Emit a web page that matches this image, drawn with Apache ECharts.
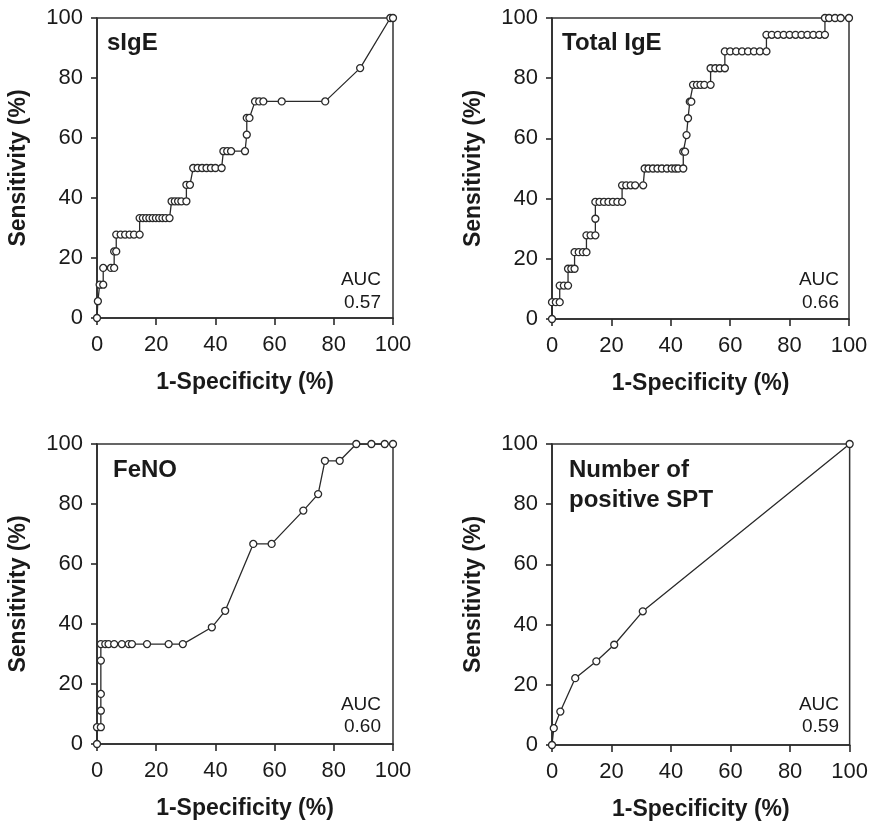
<!DOCTYPE html>
<html>
<head>
<meta charset="utf-8">
<script src="https://cdn.jsdelivr.net/npm/echarts@6/dist/echarts.min.js"></script>
<style>
html,body{margin:0;padding:0;background:#fff;}
#c{width:871px;height:825px;}
</style>
</head>
<body>
<div id="c"></div>
<script>
// ---- Data ----
const xTicks = [0, 20, 40, 60, 80, 100];
const yTicks = [0, 20, 40, 60, 80, 100];
const panelTitles = ['sIgE', 'Total IgE', 'FeNO', 'Number of\npositive SPT'];
const aucValues = ['0.57', '0.66', '0.60', '0.59'];
const xAxisTitle = '1-Specificity (%)';
const yAxisTitle = 'Sensitivity (%)';

const sigeX = [0,0.3,0.9,2.1,2.1,4.7,5.8,5.8,6.5,6.5,8,9.5,11,12.5,14.4,14.4,15.5,16.6,17.7,18.8,19.9,21,22.1,23.2,24.5,25.2,26.3,27.4,28.5,30.2,30.2,31.4,32.5,34,35.5,37,38.5,40,42.1,42.7,44,45.3,50,50.6,50.6,51.5,53.4,54.8,56.2,62.4,77.1,88.9,99.1,100];
const sigeY = [0,5.6,11.1,11.1,16.7,16.7,16.7,22.2,22.2,27.8,27.8,27.8,27.8,27.8,27.8,33.3,33.3,33.3,33.3,33.3,33.3,33.3,33.3,33.3,33.3,38.9,38.9,38.9,38.9,38.9,44.4,44.4,50,50,50,50,50,50,50,55.6,55.6,55.6,55.6,61.1,66.7,66.7,72.2,72.2,72.2,72.2,72.2,83.3,100,100];

const totX = [0,0,1.3,2.6,2.6,4,5.4,5.4,6.5,7.6,7.6,9,10.4,11.6,11.6,13,14.6,14.6,14.6,16,17.5,19,20.5,22,23.6,23.6,25,26.5,28,30.7,31.2,32.5,34,35.5,37,38.7,40.3,41.5,42.5,44.2,44.2,44.8,45.3,45.8,46.4,46.9,47.5,48.8,50,51.3,53.4,53.4,55,56.5,58.2,58.2,60,62,64,66,68,70,72.2,72.2,74,76,78,80,82,84,86,88,90,91.9,91.9,93.3,95.3,97.2,100];
const totY = [0,5.6,5.6,5.6,11.1,11.1,11.1,16.7,16.7,16.7,22.2,22.2,22.2,22.2,27.8,27.8,27.8,33.3,38.9,38.9,38.9,38.9,38.9,38.9,38.9,44.4,44.4,44.4,44.4,44.4,50,50,50,50,50,50,50,50,50,50,55.6,55.6,61.1,66.7,72.2,72.2,77.8,77.8,77.8,77.8,77.8,83.3,83.3,83.3,83.3,88.9,88.9,88.9,88.9,88.9,88.9,88.9,88.9,94.4,94.4,94.4,94.4,94.4,94.4,94.4,94.4,94.4,94.4,94.4,100,100,100,100,100];

const fenoX = [0,0,1.3,1.3,1.3,1.3,1.3,2.8,3.9,5.8,8.4,10.7,11.8,16.9,24.2,29,38.8,43.3,52.8,59,69.7,74.7,77,82,87.6,92.7,97.2,100];
const fenoY = [0,5.6,5.6,11.1,16.7,27.8,33.3,33.3,33.3,33.3,33.3,33.3,33.3,33.3,33.3,33.3,38.9,44.4,66.7,66.7,77.8,83.3,94.4,94.4,100,100,100,100];

const sptX = [0,0.6,2.8,7.8,14.9,20.9,30.5,100];
const sptY = [0,5.6,11.1,22.2,27.8,33.3,44.4,100];

// ---- Build ----
const seriesX = [sigeX, totX, fenoX, sptX];
const seriesY = [sigeY, totY, fenoY, sptY];
const grids = [
  {left: 97, top: 18, width: 296, height: 300},
  {left: 552, top: 18, width: 297, height: 301},
  {left: 97, top: 444, width: 296, height: 300},
  {left: 552, top: 444, width: 298, height: 301}
];
const FONT = '"Liberation Sans", Arial, Helvetica, sans-serif';
const INK = '#1a1a1a';

const option = {
  animation: false,
  backgroundColor: '#fff',
  grid: grids.map(g => Object.assign({show: true, borderColor: '#333', borderWidth: 1.5, backgroundColor: 'transparent'}, g)),
  xAxis: grids.map((g, i) => ({
    type: 'value', gridIndex: i, min: xTicks[0], max: xTicks[xTicks.length-1], interval: xTicks[1]-xTicks[0],
    name: xAxisTitle, nameLocation: 'middle', nameGap: 53,
    nameTextStyle: {fontFamily: FONT, fontSize: 23, fontWeight: 'bold', color: INK},
    axisLine: {show: true, onZero: false, lineStyle: {color: '#2a2a2a', width: 1.6}},
    axisTick: {show: true, inside: false, length: 7, lineStyle: {color: '#2a2a2a', width: 1.6}},
    axisLabel: {fontFamily: FONT, fontSize: 22, color: INK, margin: 16},
    splitLine: {show: false}
  })),
  yAxis: grids.map((g, i) => ({
    type: 'value', gridIndex: i, min: yTicks[0], max: yTicks[yTicks.length-1], interval: yTicks[1]-yTicks[0],
    name: yAxisTitle, nameLocation: 'middle', nameGap: 67, nameRotate: 90,
    nameTextStyle: {fontFamily: FONT, fontSize: 23, fontWeight: 'bold', color: INK},
    axisLine: {show: true, onZero: false, lineStyle: {color: '#2a2a2a', width: 1.6}},
    axisTick: {show: true, inside: false, length: 6, lineStyle: {color: '#2a2a2a', width: 1.6}},
    axisLabel: {fontFamily: FONT, fontSize: 22, color: INK, margin: 14},
    splitLine: {show: false}
  })),
  series: seriesX.map((xs, i) => ({
    type: 'line', xAxisIndex: i, yAxisIndex: i,
    data: xs.map((x, j) => [x, seriesY[i][j]]),
    symbol: 'circle', symbolSize: 7, showAllSymbol: true,
    lineStyle: {color: '#2a2a2a', width: 1.3},
    itemStyle: {color: '#fff', borderColor: '#2a2a2a', borderWidth: 1.3},
    z: 3
  })),
  graphic: []
};

// panel titles
const titlePos = [[107, 43], [562, 43], [113, 470], [569, 485]];
panelTitles.forEach((t, i) => {
  option.graphic.push({
    type: 'text', x: titlePos[i][0], y: titlePos[i][1], z: 10,
    style: {text: t, fontFamily: FONT, fontSize: 24, fontWeight: 'bold', fill: INK,
      verticalAlign: 'middle', lineHeight: 30}
  });
});
// AUC annotations
const aucPos = [[381, 280, 303], [839, 280, 303], [381, 705, 727], [839, 705, 727]];
aucValues.forEach((v, i) => {
  option.graphic.push({
    type: 'text', x: aucPos[i][0], y: aucPos[i][1], z: 10,
    style: {text: 'AUC', fontFamily: FONT, fontSize: 19, fill: INK, align: 'right', verticalAlign: 'middle'}
  });
  option.graphic.push({
    type: 'text', x: aucPos[i][0], y: aucPos[i][2], z: 10,
    style: {text: v, fontFamily: FONT, fontSize: 19, fill: INK, align: 'right', verticalAlign: 'middle'}
  });
});

const chart = echarts.init(document.getElementById('c'), null, {renderer: 'canvas'});
chart.setOption(option);
</script>
</body>
</html>
